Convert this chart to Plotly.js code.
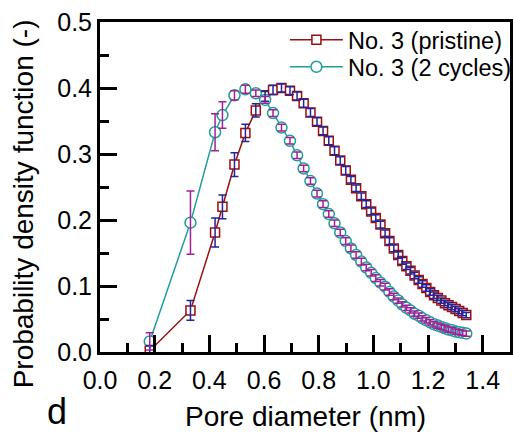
<!DOCTYPE html>
<html>
<head>
<meta charset="utf-8">
<script src="https://cdn.plot.ly/plotly-3.0.1.min.js"></script>
<style>html,body{margin:0;padding:0;background:#fff;}#chart{width:513px;height:433px;}</style>
</head>
<body>
<div id="chart"></div>
<script>
const poreDiameter = [0.182, 0.331, 0.421, 0.448, 0.492, 0.532, 0.570, 0.604, 0.633, 0.664,
  0.695, 0.721, 0.745, 0.770, 0.794, 0.816, 0.837, 0.858, 0.879, 0.899,
  0.918, 0.937, 0.956, 0.974, 0.992, 1.009, 1.026, 1.043, 1.059, 1.075,
  1.091, 1.106, 1.121, 1.136, 1.151, 1.166, 1.180, 1.194, 1.208, 1.222,
  1.236, 1.249, 1.262, 1.275, 1.288, 1.301, 1.314, 1.327, 1.340];
const pristinePdf = [0.002, 0.063, 0.181, 0.220, 0.284, 0.332, 0.366, 0.388, 0.397, 0.400,
  0.396, 0.388, 0.377, 0.363, 0.349, 0.335, 0.320, 0.305, 0.290, 0.275,
  0.261, 0.248, 0.236, 0.224, 0.213, 0.203, 0.193, 0.180, 0.168, 0.157,
  0.147, 0.138, 0.130, 0.123, 0.116, 0.109, 0.103, 0.097, 0.091, 0.086,
  0.082, 0.078, 0.074, 0.071, 0.068, 0.065, 0.062, 0.059, 0.056];
const pristineErr = [0.008, 0.015, 0.022, 0.018, 0.018, 0.013, 0.010, 0.008, 0.007, 0.006,
  0.006, 0.006, 0.006, 0.006, 0.006, 0.006, 0.006, 0.006, 0.006, 0.006,
  0.005, 0.005, 0.005, 0.005, 0.005, 0.005, 0.005, 0.005, 0.005, 0.005,
  0.005, 0.005, 0.005, 0.005, 0.005, 0.005, 0.005, 0.005, 0.005, 0.005,
  0.004, 0.004, 0.004, 0.004, 0.004, 0.004, 0.004, 0.004, 0.004];
const cyclesPdf = [0.016, 0.196, 0.333, 0.359, 0.389, 0.398, 0.392, 0.382, 0.362, 0.340,
  0.320, 0.298, 0.278, 0.259, 0.240, 0.224, 0.209, 0.195, 0.181, 0.168,
  0.157, 0.147, 0.137, 0.128, 0.120, 0.112, 0.105, 0.099, 0.091, 0.084,
  0.078, 0.072, 0.067, 0.063, 0.058, 0.055, 0.051, 0.048, 0.045, 0.042,
  0.040, 0.038, 0.036, 0.034, 0.033, 0.031, 0.030, 0.029, 0.028];
const cyclesErr = [0.013, 0.048, 0.028, 0.020, 0.007, 0.006, 0.005, 0.005, 0.005, 0.005,
  0.005, 0.005, 0.005, 0.005, 0.005, 0.005, 0.005, 0.005, 0.005, 0.005,
  0.005, 0.005, 0.005, 0.005, 0.005, 0.005, 0.005, 0.005, 0.005, 0.005,
  0.004, 0.004, 0.004, 0.004, 0.004, 0.004, 0.004, 0.004, 0.004, 0.004,
  0.004, 0.004, 0.004, 0.004, 0.004, 0.004, 0.004, 0.004, 0.004];
const seriesNames = ['No. 3 (pristine)', 'No. 3 (2 cycles)'];
const xTickVals = [0.0, 0.2, 0.4, 0.6, 0.8, 1.0, 1.2, 1.4];
const yTickVals = [0.0, 0.1, 0.2, 0.3, 0.4, 0.5];

const FONT = 'Arial, "Liberation Sans", sans-serif';
const RED = '#9a0f0f', TEAL = '#1f9f9a', BLUE = '#23239a', PURPLE = '#a0209a';

const traces = [
  {x: poreDiameter, y: pristinePdf, name: seriesNames[0], type: 'scatter', mode: 'lines+markers',
   legend: 'legend',
   line: {color: RED, width: 1.5},
   marker: {symbol: 'square', size: 9, color: 'white', line: {color: RED, width: 1.5}}},
  {x: poreDiameter, y: cyclesPdf, name: seriesNames[1], type: 'scatter', mode: 'lines+markers',
   legend: 'legend2',
   line: {color: TEAL, width: 1.5},
   marker: {symbol: 'circle', size: 11, color: 'white', line: {color: TEAL, width: 1.5}}},
  {x: poreDiameter, y: pristinePdf, type: 'scatter', mode: 'markers', showlegend: false, hoverinfo: 'skip',
   marker: {size: 1, color: 'rgba(0,0,0,0)'},
   error_y: {type: 'data', array: pristineErr, visible: true, color: BLUE, thickness: 1.5, width: 4}},
  {x: poreDiameter, y: cyclesPdf, type: 'scatter', mode: 'markers', showlegend: false, hoverinfo: 'skip',
   marker: {size: 1, color: 'rgba(0,0,0,0)'},
   error_y: {type: 'data', array: cyclesErr, visible: true, color: PURPLE, thickness: 1.5, width: 4}}
];

const axisCommon = {
  showgrid: false, zeroline: false, showline: true, linecolor: '#000', linewidth: 3, mirror: true,
  ticks: 'inside', ticklen: 17, tickwidth: 3, tickcolor: '#000',
  tickfont: {family: FONT, size: 25, color: '#000'},
  minor: {ticks: 'inside', ticklen: 9, tickwidth: 3, tickcolor: '#000', showgrid: false}
};

const legendCommon = {xanchor: 'left', yanchor: 'middle', bgcolor: 'rgba(0,0,0,0)',
  font: {family: FONT, size: 23.5, color: '#000'}, itemwidth: 53};

const layout = {
  width: 513, height: 433,
  margin: {l: 100, r: 3, t: 22, b: 81, autoexpand: false},
  paper_bgcolor: '#fff', plot_bgcolor: '#fff',
  font: {family: FONT, color: '#000'},
  showlegend: true,
  legend: Object.assign({}, legendCommon, {x: 0.451, y: 1 - (40 - 22) / 330}),
  legend2: Object.assign({}, legendCommon, {x: 0.451, y: 1 - (67 - 22) / 330}),
  xaxis: Object.assign({}, axisCommon, {
    range: [0, 1.5], tickmode: 'array', tickvals: xTickVals, ticktext: xTickVals.map(v => v.toFixed(1)),
    ticklabelstandoff: 4,
    minor: Object.assign({}, axisCommon.minor, {dtick: 0.1, tick0: 0})
  }),
  yaxis: Object.assign({}, axisCommon, {
    range: [0, 0.5], tickmode: 'array', tickvals: yTickVals, ticktext: yTickVals.map(v => v.toFixed(1)),
    minor: Object.assign({}, axisCommon.minor, {dtick: 0.05, tick0: 0})
  }),
  annotations: [
    {text: 'Pore diameter (nm)', xref: 'paper', yref: 'paper', x: (307 - 100) / 412, y: -(433 - 352) / 330,
     xanchor: 'center', yanchor: 'bottom', showarrow: false, borderpad: 0,
     font: {family: FONT, size: 28, color: '#000'}},
    {text: 'Probability density function (-)', xref: 'paper', yref: 'paper', x: (23 - 100) / 412, y: (352 - 204) / 330,
     xanchor: 'center', yanchor: 'middle', textangle: -90, showarrow: false,
     font: {family: FONT, size: 28, color: '#000'}},
    {text: 'd', xref: 'paper', yref: 'paper', x: (46 - 100) / 412, y: -(433 - 352) / 330, xanchor: 'left', yanchor: 'bottom',
     showarrow: false, borderpad: 0, font: {family: FONT, size: 36, color: '#000'}}
  ]
};

Plotly.newPlot('chart', traces, layout, {displayModeBar: false, staticPlot: true});
</script>
</body>
</html>
